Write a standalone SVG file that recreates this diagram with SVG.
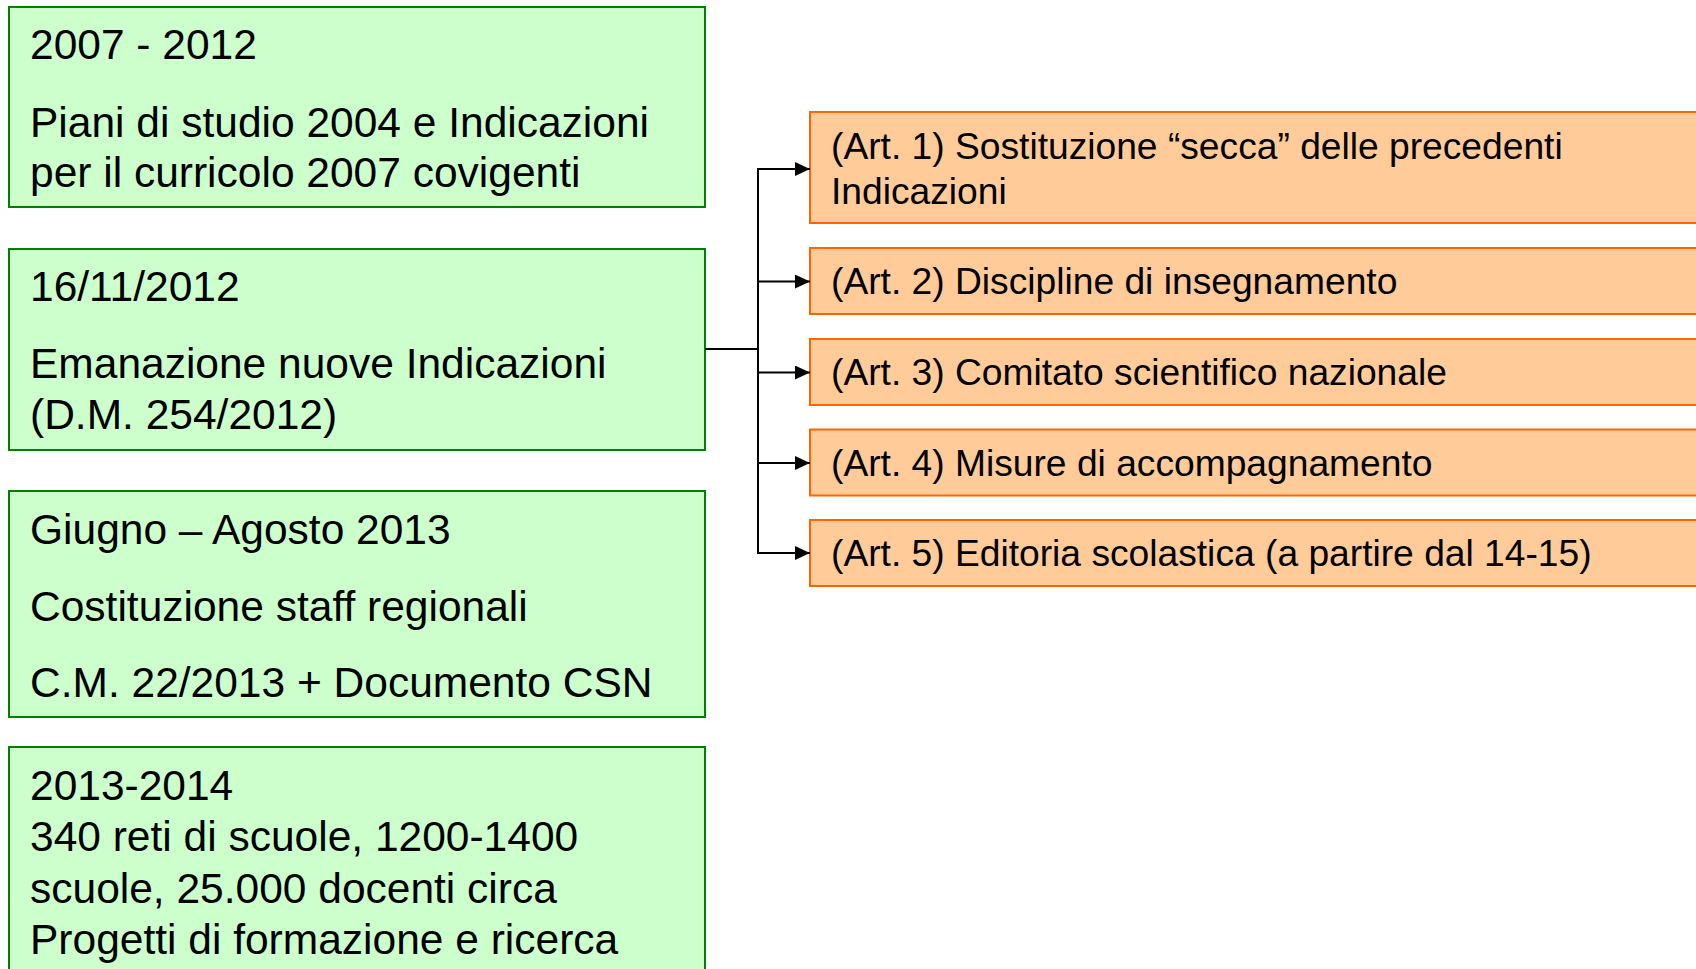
<svg xmlns="http://www.w3.org/2000/svg" width="1696" height="969" viewBox="0 0 1696 969">
<style>
.g{fill:#CCFFCC;stroke:#008000;stroke-width:2}
.o{fill:#FFCC99;stroke:#FF6600;stroke-width:2}
.t{font-family:"Liberation Sans",Arial,sans-serif;font-size:42.5px;fill:#000}
.s{font-family:"Liberation Sans",Arial,sans-serif;font-size:37.2px;fill:#000}
.c{fill:none;stroke:#000;stroke-width:2}
</style>
<defs>
<marker id="ah" viewBox="0 0 15 14" refX="15" refY="7" markerWidth="15" markerHeight="14" markerUnits="userSpaceOnUse" orient="auto">
<path d="M0,0 L15,7 L0,14 z" fill="#000"/>
</marker>
</defs>
<rect width="1696" height="969" fill="#fff"/>
<g id="n1">
<rect class="g" x="9" y="7" width="696" height="200"/>
<text class="t" x="30" y="59">2007 - 2012</text>
<text class="t" x="30" y="137">Piani di studio 2004 e Indicazioni</text>
<text class="t" x="30" y="187">per il curricolo 2007 covigenti</text>
</g>
<g id="n2">
<rect class="g" x="9" y="249" width="696" height="201"/>
<text class="t" x="30" y="301">16/11/2012</text>
<text class="t" x="30" y="378">Emanazione nuove Indicazioni</text>
<text class="t" x="30" y="429">(D.M. 254/2012)</text>
</g>
<g id="n3">
<rect class="g" x="9" y="491" width="696" height="226"/>
<text class="t" x="30" y="544">Giugno – Agosto 2013</text>
<text class="t" x="30" y="621">Costituzione staff regionali</text>
<text class="t" x="30" y="697">C.M. 22/2013 + Documento CSN</text>
</g>
<g id="n4">
<rect class="g" x="9" y="747" width="696" height="240"/>
<text class="t" x="30" y="800">2013-2014</text>
<text class="t" x="30" y="851">340 reti di scuole, 1200-1400</text>
<text class="t" x="30" y="903">scuole, 25.000 docenti circa</text>
<text class="t" x="30" y="954">Progetti di formazione e ricerca</text>
</g>
<g id="a1">
<rect class="o" x="810" y="112" width="920" height="111"/>
<text class="s" x="831" y="159">(Art. 1) Sostituzione “secca” delle precedenti</text>
<text class="s" x="831" y="204">Indicazioni</text>
</g>
<g id="a2">
<rect class="o" x="810" y="248" width="920" height="66"/>
<text class="s" x="831" y="294">(Art. 2) Discipline di insegnamento</text>
</g>
<g id="a3">
<rect class="o" x="810" y="339" width="920" height="66"/>
<text class="s" x="831" y="385">(Art. 3) Comitato scientifico nazionale</text>
</g>
<g id="a4">
<rect class="o" x="810" y="429.5" width="920" height="66"/>
<text class="s" x="831" y="476">(Art. 4) Misure di accompagnamento</text>
</g>
<g id="a5">
<rect class="o" x="810" y="520" width="920" height="66"/>
<text class="s" x="831" y="566">(Art. 5) Editoria scolastica (a partire dal 14-15)</text>
</g>
<g id="connectors">
<path class="c" d="M705,349 H758"/>
<path class="c" d="M758,168 V554"/>
<path class="c" d="M757,169 H810" marker-end="url(#ah)"/>
<path class="c" d="M757,281.5 H810" marker-end="url(#ah)"/>
<path class="c" d="M757,372.5 H810" marker-end="url(#ah)"/>
<path class="c" d="M757,463 H810" marker-end="url(#ah)"/>
<path class="c" d="M757,553 H810" marker-end="url(#ah)"/>
</g>
</svg>
